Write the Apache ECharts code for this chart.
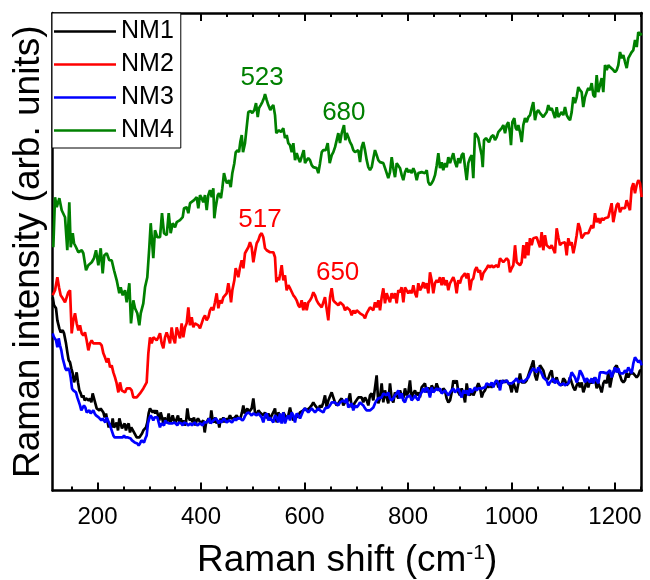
<!DOCTYPE html>
<html>
<head>
<meta charset="utf-8">
<script src="https://cdn.jsdelivr.net/npm/echarts@6/dist/echarts.min.js"></script>
<style>
html,body{margin:0;padding:0;background:#fff;}
#chart{width:650px;height:580px;}
</style>
</head>
<body>
<div id="chart"></div>
<script>
// Series names
var seriesNames = ['NM1', 'NM2', 'NM3', 'NM4'];
// Tick values (Raman shift, cm-1)
var majorTicks = [200, 400, 600, 800, 1000, 1200];
var minorTicks = [150, 250, 300, 350, 450, 500, 550, 650, 700, 750, 850, 900, 950, 1050, 1100, 1150, 1250];
// Peak annotations [x, y, text]
var peaksNM2 = [[514, 270, '517'], [664, 217, '650']];
var peaksNM4 = [[518, 412, '523'], [676, 377, '680']];

// NM1 (black)
var nm1 = [[113.4,193],[115.9,185],[119.8,182],[122.4,170],[126.2,162],[128.8,158],[132.7,160],[135.3,157],[139.1,147],[141.7,138],[144.3,130],[146.9,128],[149.4,122],[152,117],[154.6,108],[157.2,112],[159.7,118],[162.3,108],[164.9,100],[167.5,97],[170,93],[172.6,95],[175.2,90],[177.8,92],[180.3,93],[182.9,90],[185.5,92],[188.1,88],[190.6,97],[193.2,97],[195.8,87],[198.4,82],[200.9,82],[203.5,80],[206.1,82],[208.7,80],[211.3,78],[213.8,73],[216.4,77],[219,70],[221.6,63],[224.1,67],[226.7,63],[229.3,72],[231.9,63],[234.4,65],[237,68],[239.6,60],[242.2,72],[244.7,67],[247.3,62],[249.9,63],[252.5,67],[255,60],[257.6,65],[260.2,67],[262.8,58],[265.3,63],[267.9,63],[270.5,58],[273.1,57],[275.7,53],[278.2,52],[280.8,53],[283.4,55],[286,57],[288.5,60],[291.1,60],[293.7,63],[296.3,68],[298.8,77],[301.4,82],[304,80],[306.6,78],[309.1,80],[311.7,77],[314.3,80],[316.9,75],[319.4,70],[322,78],[324.6,73],[327.2,67],[329.8,73],[332.3,68],[334.9,70],[337.5,77],[340.1,68],[342.6,70],[345.2,75],[347.8,70],[350.4,68],[352.9,67],[355.5,75],[358.1,68],[360.7,72],[363.2,67],[365.8,70],[368.4,65],[371,68],[373.6,82],[376.1,73],[378.7,70],[381.3,72],[383.9,68],[386.4,73],[389,65],[391.6,70],[394.2,72],[396.7,73],[399.3,67],[401.9,68],[404.5,70],[407.1,58],[409.6,67],[412.2,68],[414.8,72],[417.4,67],[419.9,80],[422.5,70],[425.1,68],[427.7,73],[430.2,67],[432.8,70],[435.4,63],[438,72],[440.5,68],[443.1,73],[445.7,68],[448.3,72],[450.8,70],[453.4,72],[456,75],[458.6,72],[461.2,73],[463.7,72],[466.3,73],[468.9,75],[471.5,72],[474,73],[476.6,73],[479.2,78],[481.8,85],[484.3,77],[486.9,80],[489.5,82],[492.1,78],[494.7,78],[497.9,82],[501.1,92],[504.3,78],[507.5,75],[510.8,80],[514,78],[517.2,77],[520.4,75],[523.6,78],[526.9,72],[530.1,77],[533.3,70],[536.5,75],[539.7,78],[543,82],[546.2,68],[549.4,78],[552.6,75],[555.8,70],[559.1,78],[562.3,75],[565.5,72],[568.7,75],[572,83],[575.2,75],[578.4,70],[581.6,72],[584.8,73],[588.1,75],[591.3,78],[594.5,78],[597.7,80],[600.9,82],[604.2,80],[607.4,80],[610.6,83],[613.8,85],[617,88],[620.3,85],[623.5,83],[626.7,80],[629.9,85],[633.1,83],[636.4,88],[639.6,95],[642.8,83],[646,90],[649.2,90],[652.5,98],[655.7,93],[658.9,88],[662.1,85],[665.3,87],[668.6,90],[671.8,92],[675,85],[678.2,88],[681.4,88],[684.7,90],[687.9,97],[691.1,83],[694.3,85],[697.5,88],[700.8,88],[704,93],[707.2,92],[710.4,93],[713.6,88],[716.9,93],[720.1,90],[723.3,85],[726.5,95],[729.7,97],[733,90],[736.2,90],[739.4,115],[742.6,87],[745.8,92],[749.1,107],[752.3,88],[755.5,100],[758.7,93],[761.9,87],[765.2,107],[768.4,92],[771.6,88],[774.8,98],[778,95],[781.3,92],[784.5,100],[787.7,95],[790.9,92],[794.1,102],[797.4,95],[800.6,98],[803.8,110],[807,92],[810.2,97],[813.5,100],[816.7,95],[819.9,98],[823.1,93],[826.3,103],[829.6,102],[832.8,107],[836,98],[839.2,103],[842.4,95],[845.7,105],[848.9,102],[852.1,100],[855.3,107],[858.5,102],[861.8,102],[865,98],[868.2,102],[871.4,100],[874.7,92],[878,88],[881.2,90],[884.4,98],[887.6,110],[890.8,107],[894.1,110],[897.3,98],[900.5,95],[903.7,102],[906.9,97],[910.2,88],[913.4,107],[916.6,97],[919.8,95],[923,100],[926.3,95],[929.5,95],[932.7,103],[935.9,107],[939.1,103],[942.4,93],[945.6,98],[948.8,100],[952,105],[955.2,103],[958.5,105],[961.7,103],[964.9,105],[968.1,107],[971.3,110],[974.6,103],[977.8,110],[981,107],[984.2,110],[987.4,108],[990.7,110],[993.9,107],[997.1,105],[1000.3,98],[1003.5,108],[1006.8,107],[1010,98],[1013.2,107],[1016.4,117],[1019.6,108],[1022.9,107],[1026.1,108],[1029.3,110],[1032.5,115],[1035.7,120],[1039,125],[1042.2,130],[1045.4,115],[1048.6,110],[1051.8,118],[1055.1,125],[1058.3,125],[1061.5,120],[1064.7,113],[1067.9,110],[1071.2,112],[1074.4,117],[1077.6,120],[1080.8,108],[1084,107],[1087.3,113],[1090.5,107],[1093.7,108],[1096.9,105],[1100.1,112],[1103.4,110],[1106.6,105],[1109.8,107],[1113,113],[1116.2,108],[1119.5,103],[1122.7,100],[1125.9,105],[1129.1,108],[1132.3,103],[1135.6,108],[1138.8,98],[1142,103],[1145.2,110],[1148.4,103],[1151.7,110],[1154.9,107],[1158.1,108],[1161.3,113],[1164.5,102],[1167.8,107],[1171,103],[1174.2,98],[1177.4,107],[1180.6,110],[1183.9,107],[1187.1,118],[1190.3,103],[1193.5,112],[1196.7,113],[1200,123],[1203.2,125],[1206.4,120],[1209.6,115],[1212.8,110],[1216.1,108],[1219.3,110],[1222.5,117],[1225.7,113],[1228.9,117],[1232.2,118],[1235.4,117],[1238.6,115],[1241.8,113],[1245,115],[1248.3,120],[1251.5,120]];

// NM2 (red)
var nm2 = [[113.4,195],[117.9,200],[122.4,213],[125.6,203],[128.8,195],[132.7,192],[137.2,188],[140.4,187],[143.6,198],[146.9,200],[150.1,157],[153.3,170],[156.5,177],[159.7,167],[163,160],[166.2,165],[169.4,157],[172.6,155],[175.8,158],[179,150],[182.3,140],[185.5,147],[188.7,150],[191.9,147],[195.2,148],[198.4,147],[201.6,147],[204.8,147],[208,145],[211.3,137],[214.5,133],[217.7,128],[220.9,132],[224.2,123],[227.4,125],[230.6,118],[233.8,113],[237,107],[240.3,98],[243.5,108],[246.7,100],[249.9,100],[253.1,98],[256.3,102],[259.6,102],[262.8,102],[266,100],[269.2,93],[272.5,92],[275.7,93],[278.9,95],[282.1,97],[285.3,98],[288.6,102],[291.8,105],[295,108],[298.2,137],[301.4,153],[304.7,147],[307.9,153],[311.1,152],[314.3,150],[317.5,153],[320.8,157],[324,147],[327.2,142],[330.4,153],[333.6,158],[336.9,153],[340.1,147],[343.3,163],[346.5,152],[349.7,147],[353,163],[356.2,157],[359.4,152],[362.6,167],[365.8,153],[369.1,163],[372.3,167],[375.5,183],[378.7,165],[382,173],[385.2,163],[388.4,167],[391.6,167],[394.8,165],[398.1,162],[401.3,167],[404.5,172],[407.7,175],[410.9,170],[414.2,173],[417.4,180],[420.6,183],[423.8,180],[427,188],[430.3,197],[433.5,182],[436.7,190],[439.9,187],[443.1,193],[446.4,193],[449.6,197],[452.8,207],[456,197],[458,188],[460.5,200],[464.4,210],[467,222],[469.6,218],[472.1,213],[475.4,223],[478.6,230],[481.8,222],[485,237],[488.2,240],[491.5,243],[494.7,248],[497.9,243],[501.1,228],[504.3,238],[507.6,247],[510.8,250],[514,255],[517.2,257],[520.4,253],[523.7,242],[526.9,240],[530.1,240],[533.3,238],[536.5,237],[539.8,238],[543,233],[545.6,208],[548.1,213],[550.7,210],[553.3,217],[555.9,225],[559.1,210],[562.3,215],[565.5,200],[568.7,205],[572,202],[575.2,203],[578.4,195],[581.6,193],[584.8,190],[588.1,185],[591.3,183],[594.5,190],[597.7,180],[600.9,188],[604.2,180],[607.4,188],[610.6,190],[613.8,193],[617.1,198],[620.3,195],[623.5,190],[626.7,187],[629.9,188],[633.2,183],[636.4,182],[639.6,193],[642.8,192],[646,170],[649.3,193],[652.5,202],[655.7,190],[658.9,188],[662.1,188],[665.4,185],[668.6,188],[671.8,187],[675,185],[678.3,180],[681.5,183],[684.7,182],[687.9,180],[691.1,175],[694.4,180],[697.6,177],[700.8,180],[704,180],[707.2,177],[710.5,177],[713.7,175],[716.9,172],[720.1,177],[723.3,177],[726.6,183],[729.8,182],[733,180],[736.2,188],[739.4,183],[742.7,190],[745.9,180],[749.1,193],[752.3,202],[755.5,187],[758.8,197],[762,192],[765.2,188],[768.4,197],[771.6,192],[774.9,197],[778.1,187],[781.3,200],[784.5,198],[787.7,203],[791,188],[794.2,203],[797.4,202],[800.6,197],[803.8,200],[807.1,197],[810.3,205],[813.5,197],[816.7,193],[819.9,207],[823.2,200],[826.4,203],[829.6,208],[832.8,202],[836,207],[839.3,197],[842.5,218],[845.7,210],[848.9,197],[852.1,207],[855.4,210],[858.6,208],[861.8,213],[865,205],[868.2,213],[871.5,205],[874.7,210],[877.9,200],[881.1,207],[884.3,210],[887.6,213],[890.8,208],[894,197],[897.2,210],[900.4,207],[903.7,213],[906.9,213],[910.1,217],[913.3,212],[916.5,217],[919.8,200],[923,210],[926.2,212],[929.4,220],[932.6,223],[935.9,218],[939.1,220],[942.3,210],[945.5,217],[948.8,218],[952,222],[955.2,225],[958.5,223],[961.7,225],[964.9,223],[968.1,223],[971.3,225],[974.6,223],[977.8,232],[981,233],[984.2,228],[987.4,230],[990.7,232],[993.9,230],[997.1,218],[1000.3,222],[1003.5,225],[1006.8,245],[1010,228],[1013.2,227],[1016.4,225],[1019.6,228],[1022.9,245],[1026.1,232],[1029.3,248],[1032.5,235],[1035.7,252],[1039,245],[1042.2,252],[1045.4,253],[1048.6,253],[1051.8,248],[1055.1,243],[1058.3,258],[1061.5,240],[1064.7,255],[1067.9,245],[1071.2,245],[1074.4,242],[1077.6,245],[1080.8,245],[1084,237],[1087.3,262],[1090.5,253],[1093.7,245],[1096.9,247],[1100.1,247],[1103.4,248],[1106.6,235],[1109.8,252],[1113,245],[1116.2,248],[1119.5,237],[1122.7,245],[1125.9,255],[1129.1,267],[1132.3,262],[1135.6,252],[1138.8,253],[1142,257],[1145.2,258],[1148.4,257],[1151.7,257],[1154.9,265],[1158.1,262],[1161.3,277],[1164.5,268],[1167.8,272],[1171,267],[1174.2,272],[1177.4,270],[1180.6,272],[1183.9,273],[1187.1,273],[1190.3,272],[1193.5,287],[1196.7,268],[1200,277],[1203.2,285],[1206.4,287],[1209.6,278],[1212.8,282],[1216.1,283],[1219.3,282],[1222.5,290],[1225.7,285],[1228.9,280],[1232.2,302],[1235.4,307],[1238.6,297],[1241.8,305],[1245,310],[1248.3,307],[1251.5,293]];

// NM3 (blue)
var nm3 = [[113.4,157],[115.9,153],[119.8,150],[122.4,143],[125,152],[127.5,145],[130.1,140],[132.7,132],[135.3,127],[137.8,122],[140.4,120],[143,122],[145.6,120],[148.1,113],[150.7,102],[153.3,100],[155.9,100],[158.4,98],[161,93],[163.6,92],[166.2,85],[168.7,80],[171.3,80],[173.9,85],[176.5,83],[179,78],[181.6,77],[184.2,80],[186.8,77],[189.3,78],[191.9,80],[194.5,77],[197.1,75],[199.7,75],[202.2,73],[204.8,72],[207.4,70],[210,72],[212.5,70],[215.1,68],[217.7,73],[220.3,72],[222.8,67],[225.4,63],[228,62],[230.6,55],[233.1,53],[235.7,53],[238.3,53],[240.9,53],[243.4,53],[246,52],[248.6,53],[251.2,55],[253.7,53],[256.3,53],[258.9,53],[261.5,52],[264.1,52],[266.6,50],[269.2,50],[271.8,48],[274.4,47],[276.9,47],[279.5,45],[282.1,47],[284.7,50],[287.2,50],[289.8,48],[292.4,52],[295,55],[297.5,67],[300.1,72],[302.7,75],[305.3,73],[307.8,70],[310.4,73],[313,72],[315.6,73],[318.2,68],[320.7,63],[323.3,67],[325.9,68],[328.5,65],[331,70],[333.6,68],[336.2,68],[338.8,67],[341.3,68],[343.9,67],[346.5,67],[349.1,68],[351.6,67],[354.2,65],[356.8,68],[359.4,67],[361.9,67],[364.5,65],[367.1,68],[369.7,68],[372.2,67],[374.8,65],[377.4,65],[380,67],[382.6,65],[385.1,65],[387.7,68],[390.3,67],[392.9,65],[395.4,65],[398,67],[400.6,67],[403.2,65],[405.7,68],[408.3,67],[410.9,68],[413.5,70],[416,72],[418.6,67],[421.2,68],[423.8,70],[426.3,70],[428.9,72],[431.5,70],[434.1,67],[436.6,70],[439.2,68],[441.8,70],[444.4,72],[447,70],[449.5,68],[452.1,68],[454.7,70],[457.3,70],[459.8,68],[462.4,70],[465,72],[467.6,70],[470.1,72],[472.7,72],[475.3,72],[477.9,73],[480.4,70],[483,72],[485.6,75],[488.2,77],[492.1,78],[494.7,77],[497.9,75],[501.1,77],[504.3,78],[507.5,75],[510.8,77],[514,75],[517.2,73],[520.4,68],[523.6,75],[526.9,77],[530.1,70],[533.3,73],[536.5,72],[539.7,68],[543,75],[546.2,73],[549.4,68],[552.6,77],[555.8,67],[559.1,78],[562.3,67],[565.5,72],[568.7,75],[572,70],[575.2,78],[578.4,75],[581.6,68],[584.8,77],[588.1,75],[591.3,72],[594.5,73],[597.7,80],[600.9,82],[604.2,80],[607.4,78],[610.6,80],[613.8,82],[617,80],[620.3,78],[623.5,80],[626.7,82],[629.9,80],[633.1,80],[636.4,78],[639.6,82],[642.8,82],[646,83],[649.2,85],[652.5,88],[655.7,88],[658.9,88],[662.1,87],[665.3,85],[668.6,88],[671.8,88],[675,90],[678.2,88],[681.4,92],[684.7,83],[687.9,83],[691.1,87],[694.3,80],[697.5,85],[700.8,83],[704,85],[707.2,88],[710.4,88],[713.6,85],[716.9,82],[720.1,80],[723.3,80],[726.5,80],[729.7,80],[733,83],[736.2,87],[739.4,90],[742.6,92],[745.8,92],[749.1,93],[752.3,97],[755.5,97],[758.7,95],[761.9,98],[765.2,92],[768.4,90],[771.6,92],[774.8,95],[778,97],[781.3,100],[784.5,92],[787.7,97],[790.9,90],[794.1,88],[797.4,93],[800.6,92],[803.8,95],[807,90],[810.2,92],[813.5,95],[816.7,92],[819.9,90],[823.1,95],[826.3,98],[829.6,102],[832.8,98],[836,103],[839.2,100],[842.4,93],[845.7,103],[848.9,98],[852.1,97],[855.3,102],[858.5,100],[861.8,102],[865,97],[868.2,98],[871.4,100],[874.7,100],[878,95],[881.2,98],[884.4,100],[887.6,102],[890.8,98],[894.1,97],[897.3,102],[900.5,97],[903.7,93],[906.9,100],[910.2,97],[913.4,100],[916.6,95],[919.8,102],[923,98],[926.3,100],[929.5,103],[932.7,100],[935.9,102],[939.1,102],[942.4,102],[945.6,103],[948.8,103],[952,107],[955.2,108],[958.5,105],[961.7,108],[964.9,103],[968.1,108],[971.3,110],[974.6,107],[977.8,100],[981,110],[984.2,108],[987.4,108],[990.7,110],[993.9,107],[997.1,108],[1000.3,107],[1003.5,108],[1006.8,110],[1010,112],[1013.2,108],[1016.4,107],[1019.6,110],[1022.9,108],[1026.1,110],[1029.3,110],[1032.5,113],[1035.7,117],[1039,120],[1042.2,122],[1045.4,123],[1048.6,118],[1051.8,123],[1055.1,120],[1058.3,117],[1061.5,113],[1064.7,112],[1067.9,110],[1071.2,105],[1074.4,108],[1077.6,110],[1080.8,112],[1084,107],[1087.3,110],[1090.5,108],[1093.7,105],[1096.9,105],[1100.1,107],[1103.4,105],[1106.6,105],[1109.8,107],[1113,112],[1116.2,118],[1119.5,117],[1122.7,113],[1125.9,108],[1129.1,112],[1132.3,120],[1135.6,117],[1138.8,113],[1142,108],[1145.2,112],[1148.4,110],[1151.7,108],[1154.9,112],[1158.1,107],[1161.3,113],[1164.5,110],[1167.8,107],[1171,118],[1174.2,117],[1177.4,118],[1180.6,117],[1183.9,117],[1187.1,118],[1190.3,120],[1193.5,113],[1196.7,118],[1200,123],[1203.2,118],[1206.4,122],[1209.6,117],[1212.8,118],[1216.1,117],[1219.3,120],[1222.5,118],[1225.7,123],[1228.9,120],[1232.2,117],[1235.4,127],[1238.6,133],[1241.8,132],[1245,128],[1248.3,130],[1251.5,125]];

// NM4 (green)
var nm4 = [[114.6,243],[117.9,293],[121.2,283],[126.2,292],[130.8,280],[137.2,273],[141.6,240],[145.5,288],[148.2,243],[152.1,257],[154.6,247],[158.5,243],[162.9,238],[169.5,240],[172.6,237],[177.8,220],[182.2,225],[188.8,228],[193.2,232],[197.1,240],[201.6,225],[206.2,242],[210,217],[213.1,235],[217.8,237],[222.8,230],[227.4,230],[231.9,220],[237.1,210],[242.1,197],[244.8,203],[248.7,195],[253.1,200],[256.4,188],[261.5,207],[264.7,167],[269.2,190],[272.5,182],[276.9,177],[280.8,165],[283.5,177],[288.5,187],[291.8,203],[296.2,213],[300.1,243],[302.8,267],[307.8,232],[311.1,260],[315.6,253],[320.8,253],[324.6,277],[328.5,257],[333.7,255],[337.6,277],[341.4,257],[345.3,267],[349.8,263],[353,268],[359.4,270],[364.6,273],[367.2,282],[372.3,283],[375.5,277],[378.8,287],[382,288],[386.5,290],[391.7,293],[394.8,282],[398.1,295],[401.4,292],[404.4,288],[407.7,295],[411,280],[414.1,295],[417.4,300],[420.7,293],[423.8,302],[425.7,272],[428.4,283],[432.3,295],[434.8,297],[438.6,292],[441.2,302],[444.4,317],[447.7,310],[450.2,307],[454.1,310],[457.4,303],[460.5,317],[464.4,327],[467.1,338],[470.9,340],[473.4,338],[475.9,348],[478.7,355],[481.2,338],[485,347],[488.3,363],[491.4,378],[496,379],[499.1,377],[503,380],[506.3,387],[509.6,373],[512.1,382],[515.4,385],[518.5,388],[521.7,392],[523.7,396],[527,390],[530,385],[533.9,380],[536.6,383],[539.7,385],[543,375],[545.5,357],[548.2,357],[550.7,360],[554.6,358],[559,362],[562.3,352],[565.6,355],[568.7,347],[572,345],[575.3,338],[578.4,347],[581.7,330],[584.9,337],[588,332],[591.3,328],[594.6,327],[598.5,340],[601,327],[604.3,330],[607.3,332],[610.6,330],[613.9,325],[617,323],[620.3,322],[623.6,322],[626.7,317],[630,327],[633.3,338],[636.3,340],[641,340],[644.8,347],[648.7,327],[652.6,335],[655.7,338],[659,343],[662.2,350],[665.3,357],[668.6,347],[671.9,357],[676.3,365],[678.9,350],[681.6,357],[684.7,353],[688,348],[691.2,345],[694.3,340],[697.6,338],[700.9,337],[704,340],[707.3,328],[710.5,343],[713.6,348],[716.9,340],[720.2,330],[723.3,323],[726.6,320],[729.9,323],[733,332],[736.2,340],[739.5,335],[742.6,330],[745.9,328],[749.2,328],[752.3,327],[755.6,322],[758.8,317],[761.9,312],[765.2,318],[768.5,333],[771.6,322],[774.9,313],[778.2,327],[781.3,327],[784.6,322],[787.8,315],[790.9,310],[794.2,318],[797.5,322],[800.6,318],[803.9,320],[807.2,317],[810.3,322],[813.5,318],[816.8,310],[819.9,317],[823.2,318],[826.5,318],[829.6,318],[832.9,317],[836.2,320],[839.2,308],[842.5,305],[845.8,307],[848.9,310],[852.2,315],[855.5,325],[858.6,337],[861.8,322],[865.1,328],[868.2,320],[871.5,327],[874.8,323],[877.9,333],[881.2,327],[884.5,327],[887.5,337],[890.8,328],[894.1,323],[897.2,332],[900.5,327],[903.8,335],[906.9,337],[910.2,323],[913.4,310],[916.5,327],[919.8,332],[923.1,335],[926.2,312],[929.5,357],[932.7,355],[935.9,352],[939.1,343],[942.4,335],[944.4,323],[946.9,350],[950.7,352],[956.5,348],[960.4,353],[964.8,355],[968.1,350],[971.4,353],[974.5,358],[977.8,360],[981.1,362],[984.2,365],[987.5,357],[990.7,365],[993.8,368],[997.1,357],[999,345],[1001.6,368],[1005.4,372],[1008.1,362],[1010.6,360],[1013.2,365],[1016.4,358],[1019.7,348],[1022.8,365],[1026.1,372],[1029.4,368],[1032.5,373],[1035.8,375],[1039,382],[1042.1,388],[1045.4,370],[1048.7,378],[1051.8,380],[1055.1,377],[1058.4,375],[1061.4,373],[1064.7,372],[1068,378],[1071.1,385],[1074.4,380],[1077.7,382],[1080.8,383],[1084.1,372],[1087.3,383],[1090.4,373],[1093.7,373],[1097,378],[1100.1,375],[1103.4,383],[1106.7,375],[1109.8,372],[1113.1,370],[1116.3,378],[1119.4,393],[1122.7,387],[1126,393],[1129.1,403],[1132.4,400],[1135.6,398],[1138.7,383],[1142,393],[1145.3,398],[1148.4,402],[1151.7,400],[1155,407],[1158.1,395],[1161.4,393],[1164.6,415],[1167.7,398],[1171,397],[1174.3,412],[1177.4,398],[1180.7,425],[1184,420],[1187.1,425],[1190.4,423],[1193.7,422],[1196.8,420],[1200,418],[1203.3,420],[1206.4,425],[1209.7,438],[1213,432],[1216.1,435],[1219.4,428],[1222.6,422],[1225.8,432],[1229,435],[1232.3,438],[1235.4,440],[1238.7,450],[1242,443],[1245,458],[1248.4,455],[1251.6,457]];

var colors = ['#000000', '#ff0000', '#0000ff', '#008000'];
var FONT = '"Liberation Sans", Arial, Helvetica, sans-serif';
var X_MIN = 113.4, X_MAX = 1251.6, Y_MIN = 0, Y_MAX = 477;

function xAx(pos, ticks, len, showLine, showLabel, extra) {
  var a = {
    type: 'value', position: pos, min: X_MIN, max: X_MAX,
    axisLine: { show: showLine, onZero: false, lineStyle: { color: '#000', width: 2.5 } },
    axisTick: { show: true, inside: true, length: len, customValues: ticks, lineStyle: { color: '#000', width: 2 } },
    axisLabel: { show: showLabel, customValues: ticks, color: '#000', fontSize: 24, fontFamily: FONT, margin: 15,
      formatter: function (v) { return String(v); } },
    splitLine: { show: false }
  };
  if (extra) for (var k in extra) a[k] = extra[k];
  return a;
}

function peakMarks(list, color) {
  return {
    symbol: 'circle', symbolSize: 1, silent: true,
    itemStyle: { color: 'rgba(0,0,0,0)' },
    label: { show: true, position: 'inside', color: color, fontSize: 26, fontFamily: FONT, formatter: '{b}' },
    data: list.map(function (p) { return { name: p[2], coord: [p[0], p[1]] }; })
  };
}

var dataSets = [nm1, nm2, nm3, nm4];
var series = dataSets.map(function (d, i) {
  var s = {
    name: seriesNames[i], type: 'line', data: d, xAxisIndex: 0, yAxisIndex: 0,
    symbol: 'none', showSymbol: false, smooth: false,
    lineStyle: { color: colors[i], width: 2.7 }, itemStyle: { color: colors[i] },
    emphasis: { disabled: true }, animation: false
  };
  if (i === 1) s.markPoint = peakMarks(peaksNM2, colors[1]);
  if (i === 3) s.markPoint = peakMarks(peaksNM4, colors[3]);
  return s;
});

var chart = echarts.init(document.getElementById('chart'), null, { renderer: 'canvas' });
chart.setOption({
  animation: false,
  backgroundColor: '#fff',
  textStyle: { fontFamily: FONT },
  grid: { left: 52.7, right: 8.3, top: 13, bottom: 89.5, containLabel: false, outerBoundsMode: 'none' },
  legend: {
    data: seriesNames.map(function (n) { return { name: n, icon: 'rect' }; }),
    orient: 'vertical', left: 52, top: 13,
    itemWidth: 62, itemHeight: 2.6, itemGap: 8,
    padding: [6, 7, 5, 2],
    borderColor: '#000', borderWidth: 1, backgroundColor: '#fff',
    textStyle: { fontSize: 25, color: '#000', fontFamily: FONT },
    selectedMode: false, z: 10
  },
  xAxis: [
    xAx('bottom', majorTicks, 8, true, true, {
      name: 'Raman shift (cm{sup|-1})', nameLocation: 'middle', nameGap: 52,
      nameTextStyle: { fontSize: 37, color: '#000', fontFamily: FONT,
        rich: { sup: { fontSize: 21, verticalAlign: 'top', color: '#000', fontFamily: FONT } } }
    }),
    xAx('bottom', minorTicks, 4, false, false),
    xAx('top', majorTicks, 8, true, false),
    xAx('top', minorTicks, 4, false, false)
  ],
  yAxis: [
    { type: 'value', position: 'left', min: Y_MIN, max: Y_MAX,
      axisLine: { show: true, onZero: false, lineStyle: { color: '#000', width: 2.5 } },
      axisTick: { show: false }, axisLabel: { show: false }, splitLine: { show: false },
      name: 'Raman intensity (arb. units)', nameLocation: 'middle', nameGap: 5,
      nameTextStyle: { fontSize: 37, color: '#000', fontFamily: FONT } },
    { type: 'value', position: 'right', min: Y_MIN, max: Y_MAX,
      axisLine: { show: true, onZero: false, lineStyle: { color: '#000', width: 2.5 } },
      axisTick: { show: false }, axisLabel: { show: false }, splitLine: { show: false } }
  ],
  series: series
});
</script>
</body>
</html>
